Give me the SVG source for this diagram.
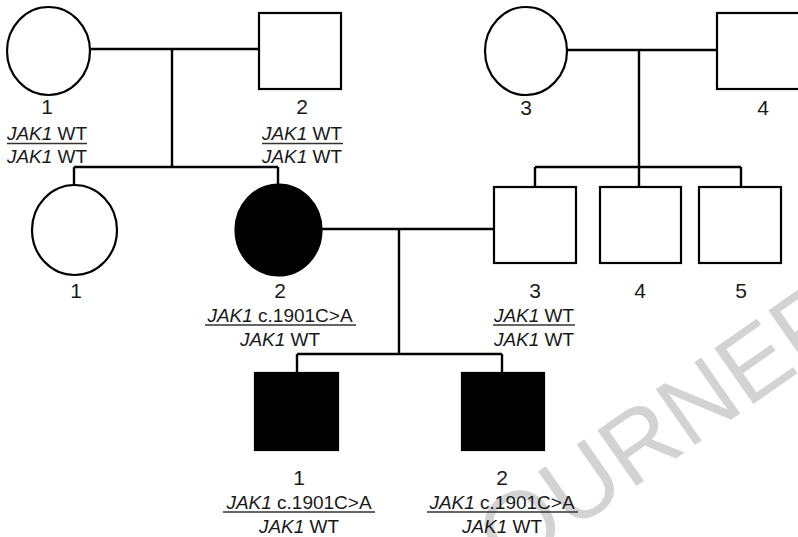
<svg xmlns="http://www.w3.org/2000/svg" width="798" height="537" viewBox="0 0 798 537">
<style>
.sym{fill:#fff;stroke:#000;stroke-width:2.2}
.aff{fill:#000;stroke:#000;stroke-width:2.2}
.ln{fill:none;stroke:#000;stroke-width:2.4}
.num{font-family:"Liberation Sans",Arial,sans-serif;font-size:21px;fill:#1a1a1a;text-anchor:middle}
.gt{font-family:"Liberation Sans",Arial,sans-serif;font-size:19px;fill:#1a1a1a;text-anchor:middle}
.it{font-style:italic}
.ul{stroke:#333;stroke-width:1.4}
.wm{font-family:"Liberation Sans",Arial,sans-serif;font-size:99px;fill:#d3d3d3}
</style>
<rect width="798" height="537" fill="#fff"/>
<text class="wm" transform="translate(508,576) rotate(-35)">OURNEF</text>
<g id="connectors">
<path class="ln" d="M90 49H259M172 49V167M74 167H278M74 167V185M278 167V185"/>
<path class="ln" d="M567 50H717M639 50V167M535 167H741M535 167V187M639 167V187M741 167V187"/>
<path class="ln" d="M322 229H494M399 229V354M297 354H502M297 354V373M502 354V373"/>
</g>
<g id="I-1">
<ellipse class="sym" cx="48.5" cy="51" rx="41.5" ry="44"/>
<text class="num" x="47" y="114">1</text>
<text class="gt" x="47" y="140"><tspan class="it">JAK1</tspan> WT</text>
<line class="ul" x1="7" y1="143.5" x2="87" y2="143.5"/>
<text class="gt" x="47" y="163"><tspan class="it">JAK1</tspan> WT</text>
</g>
<g id="I-2">
<rect class="sym" x="259" y="13" width="82" height="76"/>
<text class="num" x="302" y="114">2</text>
<text class="gt" x="302" y="140"><tspan class="it">JAK1</tspan> WT</text>
<line class="ul" x1="262" y1="143.5" x2="343" y2="143.5"/>
<text class="gt" x="302" y="163"><tspan class="it">JAK1</tspan> WT</text>
</g>
<g id="I-3">
<ellipse class="sym" cx="526" cy="51" rx="41" ry="44"/>
<text class="num" x="526" y="115">3</text>
</g>
<g id="I-4">
<rect class="sym" x="717" y="13" width="84" height="76"/>
<text class="num" x="763" y="115">4</text>
</g>
<g id="II-1">
<ellipse class="sym" cx="74.5" cy="230" rx="42.5" ry="45"/>
<text class="num" x="76" y="298">1</text>
</g>
<g id="II-2">
<ellipse class="aff" cx="278.5" cy="230" rx="43" ry="45.5"/>
<text class="num" x="280" y="298">2</text>
<text class="gt" x="280" y="322"><tspan class="it">JAK1</tspan> c.1901C&gt;A</text>
<line class="ul" x1="205" y1="325" x2="356" y2="325"/>
<text class="gt" x="280" y="346"><tspan class="it">JAK1</tspan> WT</text>
</g>
<g id="II-3">
<rect class="sym" x="494" y="187" width="82" height="76"/>
<text class="num" x="535" y="298">3</text>
<text class="gt" x="534" y="322"><tspan class="it">JAK1</tspan> WT</text>
<line class="ul" x1="493" y1="325" x2="575" y2="325"/>
<text class="gt" x="534" y="346"><tspan class="it">JAK1</tspan> WT</text>
</g>
<g id="II-4">
<rect class="sym" x="600" y="187" width="81" height="76"/>
<text class="num" x="640" y="298">4</text>
</g>
<g id="II-5">
<rect class="sym" x="699" y="187" width="82" height="76"/>
<text class="num" x="741" y="298">5</text>
</g>
<g id="III-1">
<rect class="aff" x="255" y="373" width="83" height="77"/>
<text class="num" x="299" y="485">1</text>
<text class="gt" x="299" y="509"><tspan class="it">JAK1</tspan> c.1901C&gt;A</text>
<line class="ul" x1="223" y1="512" x2="375" y2="512"/>
<text class="gt" x="299" y="533"><tspan class="it">JAK1</tspan> WT</text>
</g>
<g id="III-2">
<rect class="aff" x="462" y="373" width="82" height="77"/>
<text class="num" x="502" y="485">2</text>
<text class="gt" x="502" y="509"><tspan class="it">JAK1</tspan> c.1901C&gt;A</text>
<line class="ul" x1="427" y1="512" x2="578" y2="512"/>
<text class="gt" x="502" y="533"><tspan class="it">JAK1</tspan> WT</text>
</g>
</svg>
